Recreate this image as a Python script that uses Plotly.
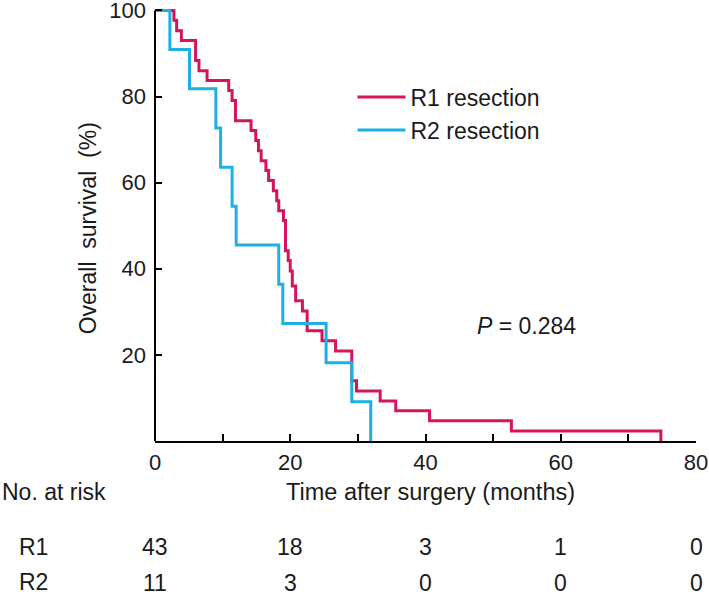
import plotly.graph_objects as go

# Kaplan-Meier step data (time in months, survival in %)
r1_time = [0, 2.8, 3.2, 3.9, 6.0, 6.5, 7.7, 10.9, 11.4, 11.9, 14.2, 14.9, 15.3, 15.7,
           16.4, 16.8, 17.5, 18.0, 18.3, 19.0, 19.3, 19.7, 20.0, 20.3, 20.8, 21.8,
           22.5, 24.7, 26.7, 29.1, 29.8, 33.3, 35.6, 40.6, 52.7, 74.8]
r1_surv = [100, 97.7, 95.3, 93.0, 88.4, 86.0, 83.7, 81.4, 79.1, 74.4, 72.1, 69.8, 67.4, 65.1,
           62.8, 60.5, 58.1, 55.8, 53.5, 51.2, 44.2, 41.9, 39.5, 36.0, 32.6, 30.2,
           25.6, 23.3, 20.9, 14.0, 11.6, 9.3, 7.0, 4.7, 2.3, 0]

r2_time = [0, 2.2, 5.1, 9.0, 9.7, 11.4, 12.0, 18.3, 18.9, 25.3, 29.1, 31.9]
r2_surv = [100, 90.9, 81.8, 72.7, 63.6, 54.5, 45.5, 36.4, 27.3, 18.2, 9.1, 0]

series_names = ["R1 resection", "R2 resection"]
risk_times = [0, 20, 40, 60, 80]
risk_r1 = [43, 18, 3, 1, 0]
risk_r2 = [11, 3, 0, 0, 0]
risk_labels = ["R1", "R2"]
x_ticks = [0, 10, 20, 30, 40, 50, 60, 70, 80]
x_ticktext = ["0", "", "20", "", "40", "", "60", "", "80"]
y_ticks = [20, 40, 60, 80, 100]
p_text = "<i>P</i> = 0.284"

RED = "#D6145E"
BLUE = "#1EAFE6"
FONT = "Arial, Liberation Sans, Helvetica, sans-serif"
TXT = "#1a1a1a"

fig = go.Figure()
fig.add_trace(go.Scatter(x=r1_time, y=r1_surv, mode="lines", line=dict(shape="hv", color=RED, width=3),
                         name=series_names[0], legendgroup="a"))
fig.add_trace(go.Scatter(x=r2_time, y=r2_surv, mode="lines", line=dict(shape="hv", color=BLUE, width=3),
                         name=series_names[1], legendgroup="b"))

fig.update_layout(
    width=709, height=596,
    margin=dict(l=155, r=13, t=7, b=155, autoexpand=False),
    paper_bgcolor="white", plot_bgcolor="white",
    font=dict(family=FONT, size=22, color=TXT),
    showlegend=True,
    legend=dict(x=0.365, y=0.842, xanchor="left", yanchor="top", bgcolor="rgba(0,0,0,0)",
                font=dict(size=23, color=TXT), traceorder="grouped", tracegroupgap=0,
                itemwidth=48),
    xaxis=dict(range=[0, 80], tickvals=x_ticks, ticktext=x_ticktext, ticks="inside", ticklen=7,
               tickwidth=2, tickcolor="black", showline=True, linewidth=2, linecolor="black",
               showgrid=False, zeroline=False, ticklabelstandoff=1, ticklabeloverflow="allow",
               tickfont=dict(size=22, color=TXT)),
    yaxis=dict(range=[0, 100.8], tickvals=y_ticks, ticks="inside", ticklen=7, tickwidth=2,
               tickcolor="black", showline=False, showgrid=False, zeroline=False,
               ticklabelstandoff=8, ticklabeloverflow="allow", tickfont=dict(size=22, color=TXT)),
)

# y axis line ending exactly at 100
fig.add_shape(type="line", xref="paper", yref="y", x0=0, x1=0, y0=0, y1=100,
              line=dict(color="black", width=2))

Y_TITLE = -0.1175
Y_R1 = -0.2431
Y_R2 = -0.3260

ann = []
ann.append(dict(text="Overall&nbsp; survival&nbsp; (%)", textangle=-90, xref="paper", yref="y",
                x=-0.1248, y=49.5, xanchor="center", yanchor="middle", showarrow=False,
                font=dict(size=23, color=TXT)))
ann.append(dict(text="Time after surgery (months)", xref="x", yref="paper", x=40.7, y=Y_TITLE,
                xanchor="center", yanchor="middle", showarrow=False, font=dict(size=23.5, color=TXT)))
ann.append(dict(text="No. at risk", xref="paper", yref="paper", x=-0.2865, y=Y_TITLE,
                xanchor="left", yanchor="middle", showarrow=False, font=dict(size=23, color=TXT)))
for lab, yv in zip(risk_labels, [Y_R1, Y_R2]):
    ann.append(dict(text=lab, xref="paper", yref="paper", x=-0.2237, y=yv, xanchor="center",
                    yanchor="middle", showarrow=False, font=dict(size=23, color=TXT)))
for t, a, b in zip(risk_times, risk_r1, risk_r2):
    ann.append(dict(text=str(a), xref="x", yref="paper", x=t, y=Y_R1 - 0.002, xanchor="center",
                    yanchor="middle", showarrow=False, font=dict(size=23, color=TXT)))
    ann.append(dict(text=str(b), xref="x", yref="paper", x=t, y=Y_R2 - 0.002, xanchor="center",
                    yanchor="middle", showarrow=False, font=dict(size=23, color=TXT)))
ann.append(dict(text=p_text, xref="x", yref="y", x=55.0, y=26.8, xanchor="center",
                yanchor="middle", showarrow=False, font=dict(size=23, color=TXT)))
fig.update_layout(annotations=ann)

fig.write_html("out.html", config={"displayModeBar": False},
               post_script="document.body.style.margin='0';")
